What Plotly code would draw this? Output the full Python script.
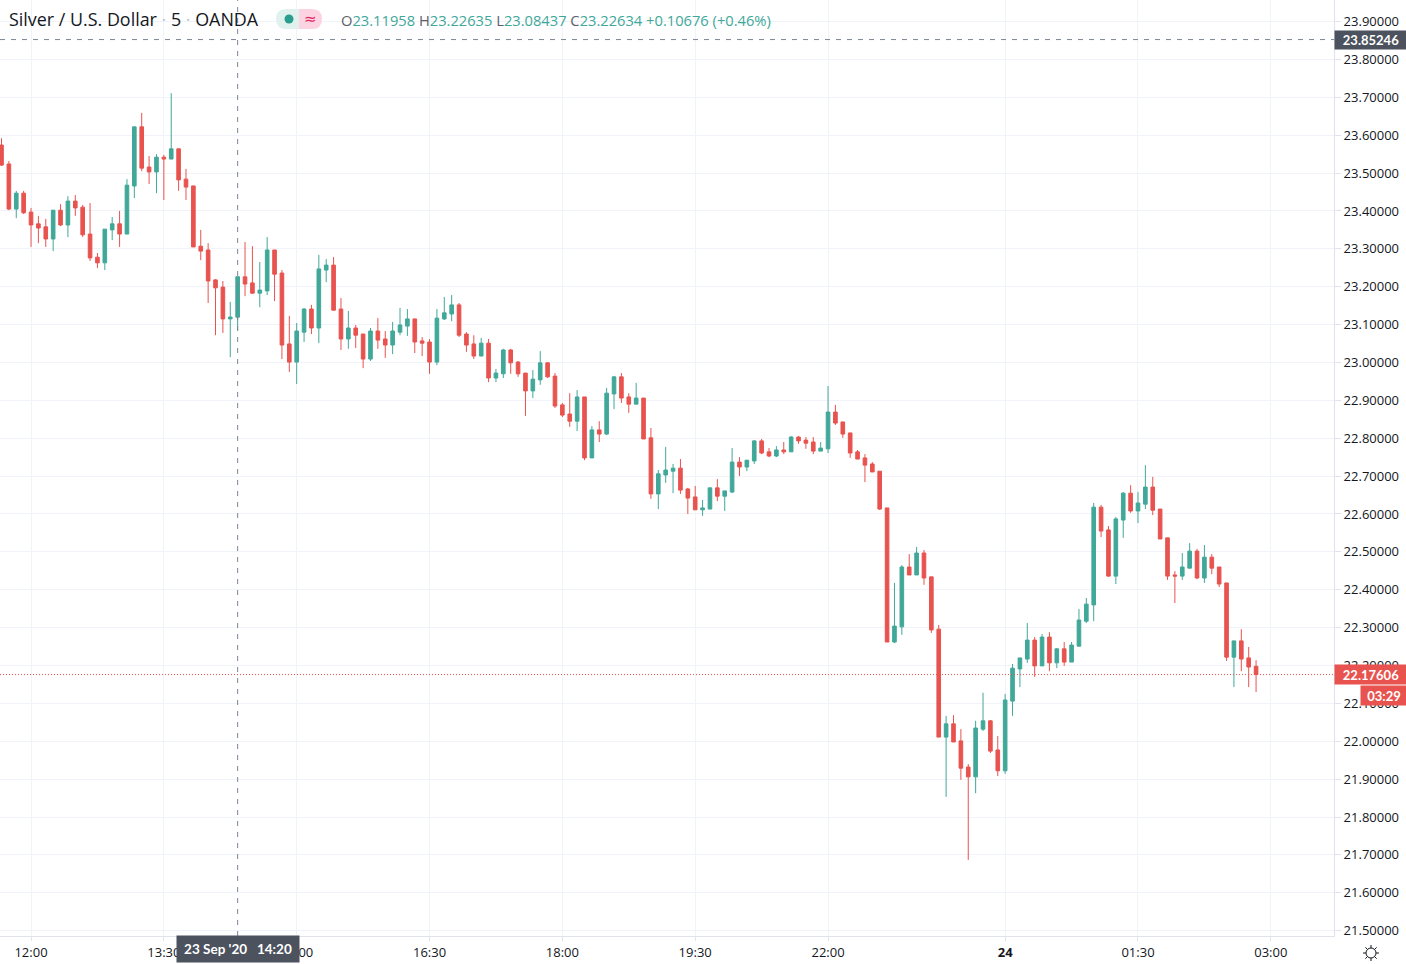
import plotly.graph_objects as go
import math

bar_index = list(range(171))
opens = [
 23.574,23.524,23.405,23.447,23.397,23.366,23.358,23.326,23.402,23.363,
 23.426,23.410,23.339,23.278,23.263,23.350,23.366,23.339,23.466,23.622,
 23.516,23.503,23.542,23.537,23.564,23.484,23.466,23.307,23.297,23.218,
 23.199,23.115,23.11958,23.226,23.210,23.183,23.189,23.297,23.236,23.049,
 23.001,23.080,23.141,23.091,23.244,23.257,23.141,23.062,23.091,23.075,
 23.009,23.083,23.062,23.046,23.080,23.096,23.115,23.057,23.054,23.001,
 23.115,23.128,23.152,23.075,23.049,23.017,23.051,22.959,22.970,23.033,
 23.001,22.972,22.925,22.954,22.999,22.964,22.888,22.864,22.845,22.909,
 22.748,22.822,22.811,22.917,22.962,22.909,22.890,22.906,22.801,22.653,
 22.703,22.713,22.721,22.666,22.645,22.611,22.613,22.669,22.647,22.658,
 22.737,22.724,22.740,22.793,22.764,22.753,22.769,22.764,22.803,22.795,
 22.790,22.766,22.772,22.869,22.843,22.814,22.764,22.748,22.732,22.713,
 22.616,22.262,22.302,22.460,22.439,22.497,22.434,22.296,22.011,22.046,
 22.001,21.932,21.906,22.032,22.054,21.977,21.922,22.106,22.191,22.217,
 22.267,22.199,22.275,22.207,22.244,22.209,22.251,22.317,22.360,22.618,
 22.558,22.436,22.584,22.655,22.608,22.626,22.671,22.613,22.537,22.439,
 22.436,22.457,22.502,22.431,22.486,22.460,22.418,22.222,22.265,22.220,
 22.198]
highs = [
 23.592,23.532,23.453,23.453,23.408,23.387,23.379,23.402,23.418,23.439,
 23.442,23.416,23.421,23.289,23.352,23.384,23.400,23.484,23.622,23.659,
 23.545,23.550,23.548,23.711,23.564,23.511,23.466,23.350,23.315,23.220,
 23.215,23.160,23.22635,23.318,23.307,23.265,23.331,23.297,23.244,23.123,
 23.104,23.144,23.152,23.284,23.273,23.278,23.170,23.136,23.099,23.075,
 23.091,23.117,23.083,23.107,23.144,23.141,23.115,23.067,23.062,23.141,
 23.173,23.178,23.157,23.080,23.072,23.065,23.062,22.983,23.036,23.036,
 23.004,22.972,22.980,23.030,23.001,22.972,22.893,22.919,22.927,22.909,
 22.832,22.845,22.933,22.964,22.972,22.919,22.946,22.906,22.827,22.716,
 22.777,22.732,22.745,22.669,22.674,22.637,22.669,22.692,22.661,22.774,
 22.750,22.742,22.795,22.798,22.774,22.779,22.790,22.806,22.806,22.803,
 22.803,22.790,22.938,22.888,22.843,22.814,22.769,22.758,22.737,22.713,
 22.616,22.418,22.465,22.494,22.513,22.505,22.434,22.307,22.067,22.069,
 22.032,21.940,22.054,22.128,22.056,22.014,22.125,22.204,22.220,22.312,
 22.275,22.283,22.288,22.246,22.262,22.262,22.349,22.378,22.629,22.624,
 22.568,22.592,22.658,22.676,22.658,22.729,22.698,22.613,22.537,22.449,
 22.497,22.523,22.508,22.518,22.494,22.460,22.418,22.265,22.296,22.249,
 22.214]
lows = [
 23.519,23.402,23.381,23.392,23.305,23.315,23.305,23.294,23.360,23.331,
 23.387,23.331,23.268,23.249,23.244,23.323,23.305,23.339,23.434,23.505,
 23.471,23.447,23.429,23.537,23.453,23.429,23.305,23.270,23.157,23.072,
 23.078,23.014,23.08437,23.175,23.181,23.146,23.178,23.162,23.009,22.975,
 22.943,23.054,23.075,23.051,23.212,23.138,23.033,23.036,23.038,22.985,
 23.004,23.036,23.012,23.022,23.072,23.070,23.025,23.017,22.970,22.993,
 23.112,23.109,23.067,23.028,23.009,23.017,22.948,22.948,22.959,22.970,
 22.962,22.859,22.906,22.941,22.959,22.880,22.856,22.830,22.819,22.742,
 22.748,22.790,22.808,22.877,22.893,22.867,22.890,22.798,22.640,22.613,
 22.682,22.655,22.653,22.600,22.611,22.595,22.613,22.634,22.608,22.655,
 22.700,22.713,22.732,22.758,22.750,22.750,22.758,22.764,22.785,22.772,
 22.758,22.766,22.761,22.835,22.801,22.748,22.745,22.684,22.711,22.611,
 22.262,22.259,22.281,22.439,22.439,22.413,22.286,22.011,21.853,21.998,
 21.898,21.687,21.863,22.027,21.969,21.908,21.914,22.067,22.143,22.207,
 22.170,22.199,22.185,22.193,22.199,22.209,22.251,22.312,22.317,22.539,
 22.434,22.415,22.537,22.603,22.576,22.613,22.597,22.534,22.426,22.365,
 22.426,22.457,22.428,22.418,22.441,22.407,22.212,22.143,22.185,22.143,
 22.130]
closes = [
 23.521,23.405,23.447,23.395,23.363,23.355,23.326,23.402,23.363,23.426,
 23.408,23.337,23.276,23.263,23.352,23.366,23.339,23.468,23.622,23.513,
 23.503,23.542,23.537,23.564,23.482,23.463,23.305,23.294,23.215,23.197,
 23.115,23.120,23.22634,23.207,23.183,23.191,23.297,23.233,23.046,23.001,
 23.083,23.141,23.091,23.247,23.257,23.138,23.062,23.091,23.072,23.009,
 23.083,23.059,23.046,23.083,23.099,23.115,23.054,23.051,23.001,23.117,
 23.131,23.152,23.072,23.046,23.017,23.051,22.959,22.972,23.033,22.999,
 22.970,22.925,22.956,22.999,22.962,22.885,22.861,22.845,22.909,22.748,
 22.822,22.811,22.919,22.962,22.906,22.890,22.906,22.798,22.653,22.706,
 22.716,22.721,22.663,22.642,22.611,22.616,22.669,22.647,22.661,22.737,
 22.724,22.742,22.793,22.761,22.753,22.769,22.764,22.803,22.793,22.787,
 22.766,22.774,22.869,22.840,22.811,22.761,22.745,22.729,22.711,22.613,
 22.262,22.304,22.460,22.439,22.497,22.431,22.294,22.011,22.046,21.998,
 21.929,21.906,22.035,22.054,21.974,21.922,22.109,22.193,22.220,22.267,
 22.199,22.275,22.207,22.244,22.209,22.254,22.320,22.362,22.618,22.555,
 22.436,22.587,22.655,22.608,22.629,22.671,22.610,22.534,22.436,22.436,
 22.460,22.502,22.431,22.486,22.457,22.415,22.222,22.265,22.217,22.196,
 22.17606]

time_ticks = [4, 22, 40, 58, 76, 94, 112, 136, 154, 172]
time_labels = ["12:00", "13:30", "15:00", "16:30", "18:00", "19:30", "22:00", "<b>24</b>", "01:30", "03:00"]
price_ticks = [21.5, 21.6, 21.7, 21.8, 21.9, 22.0, 22.1, 22.2, 22.3, 22.4, 22.5, 22.6,
               22.7, 22.8, 22.9, 23.0, 23.1, 23.2, 23.3, 23.4, 23.5, 23.6, 23.7, 23.8, 23.9]
crosshair_bar = 32
crosshair_price = 23.85246
last_price = 22.17606

TEAL = "#41a899"
RED = "#e8534f"
GRID = "#f1f3fa"
AXIS = "#e0e3eb"
INK = "#131722"
DARK = "#4c525e"
GREY = "#7b8696"
W, H = 1406, 964
PW, PH = 1334, 936
FONT = "Open Sans"


def fx(px):
    return px / PW


def fy(py):
    return 1 - py / PH


fig = go.Figure(go.Candlestick(
    x=bar_index, open=opens, high=highs, low=lows, close=closes,
    increasing=dict(line=dict(color=TEAL, width=1), fillcolor=TEAL),
    decreasing=dict(line=dict(color=RED, width=1), fillcolor=RED),
    whiskerwidth=0, hoverinfo="skip", showlegend=False,
))

shapes = [
    dict(type="line", xref="paper", yref="y", x0=0, x1=1, y0=crosshair_price, y1=crosshair_price,
         line=dict(color=GREY, width=1, dash="5px,6px")),
    dict(type="line", xref="x", yref="paper", x0=crosshair_bar, x1=crosshair_bar, y0=0, y1=1,
         line=dict(color=GREY, width=1, dash="5px,6px")),
    dict(type="line", xref="paper", yref="y", x0=0, x1=1, y0=last_price, y1=last_price,
         line=dict(color=RED, width=1, dash="1px,2px")),
    dict(type="path", xref="paper", yref="paper", fillcolor="#e1f2ee", line_width=0,
         path=f"M {fx(299)} {fy(9)} L {fx(286)} {fy(9)} Q {fx(276)} {fy(9)} {fx(276)} {fy(19)} "
              f"Q {fx(276)} {fy(29)} {fx(286)} {fy(29)} L {fx(299)} {fy(29)} Z"),
    dict(type="path", xref="paper", yref="paper", fillcolor="#fbd3e1", line_width=0,
         path=f"M {fx(299)} {fy(9)} L {fx(312)} {fy(9)} Q {fx(322)} {fy(9)} {fx(322)} {fy(19)} "
              f"Q {fx(322)} {fy(29)} {fx(312)} {fy(29)} L {fx(299)} {fy(29)} Z"),
    dict(type="circle", xref="paper", yref="paper", x0=fx(284.5), x1=fx(293.5), y0=fy(23.5), y1=fy(14.5),
         fillcolor="#2a9d8f", line_width=0),
    dict(type="circle", xref="paper", yref="paper", x0=fx(1366), x1=fx(1376), y0=fy(958), y1=fy(948),
         fillcolor="white", line=dict(color=INK, width=1)),
]
for k in range(8):
    a = k * math.pi / 4
    shapes.append(dict(type="line", xref="paper", yref="paper",
                       x0=fx(1371 + 5 * math.cos(a)), y0=fy(953 + 5 * math.sin(a)),
                       x1=fx(1371 + 8 * math.cos(a)), y1=fy(953 + 8 * math.sin(a)),
                       line=dict(color=INK, width=1)))

annotations = [
    dict(xref="paper", yref="paper", x=fx(7), y=fy(19), xanchor="left", yanchor="middle", showarrow=False,
         text='Silver / U.S. Dollar <span style="color:#c4c8d0">·</span> 5 <span style="color:#c4c8d0">·</span> OANDA',
         font=dict(family=FONT, size=17.9, color=INK)),
    dict(xref="paper", yref="paper", x=fx(310), y=fy(19), xanchor="center", yanchor="middle", showarrow=False,
         text="≈", font=dict(family="DejaVu Sans", size=15, color="#e0245e")),
    dict(xref="paper", yref="paper", x=fx(339), y=fy(20), xanchor="left", yanchor="middle", showarrow=False,
         text=('<span style="color:#5d606b">O</span>23.11958 '
               '<span style="color:#5d606b">H</span>23.22635 '
               '<span style="color:#5d606b">L</span>23.08437 '
               '<span style="color:#5d606b">C</span>23.22634 +0.10676 (+0.46%)'),
         font=dict(family=FONT, size=14.7, color=TEAL)),
    dict(xref="paper", yref="y", x=fx(1334), y=crosshair_price, xanchor="left", yanchor="middle", showarrow=False,
         text="<b>23.85246</b>", width=72, height=18, bgcolor=DARK, borderpad=0,
         font=dict(family="Lato", size=13, color="white")),
    dict(xref="paper", yref="y", x=fx(1334), y=last_price, xanchor="left", yanchor="middle", showarrow=False,
         text="<b>22.17606</b>", width=72, height=19, bgcolor=RED, borderpad=0,
         font=dict(family="Lato", size=13, color="white")),
    dict(xref="paper", yref="paper", x=fx(1360), y=fy(695), xanchor="left", yanchor="middle", showarrow=False,
         text="<b>03:29</b>", width=46, height=19, bgcolor=RED, borderpad=0,
         font=dict(family="Lato", size=13, color="white")),
    dict(xref="x", yref="paper", x=crosshair_bar, y=fy(949), xanchor="center", yanchor="middle", showarrow=False,
         text="<b>23 Sep '20   14:20</b>", width=122, height=26, bgcolor=DARK, borderpad=0,
         font=dict(family="Lato", size=13.5, color="white")),
]

fig.update_layout(
    width=W, height=H, autosize=False,
    margin=dict(l=0, r=W - PW, t=0, b=H - PH, pad=0),
    paper_bgcolor="white", plot_bgcolor="white",
    font=dict(family=FONT, size=13, color=INK),
    shapes=shapes, annotations=annotations, showlegend=False,
    dragmode=False,
)
fig.update_xaxes(
    range=[-0.203, 180.56], rangeslider_visible=False,
    tickmode="array", tickvals=time_ticks, ticktext=time_labels,
    showgrid=True, gridcolor=GRID, gridwidth=1, zeroline=False,
    ticks="outside", ticklen=4, tickcolor=AXIS, tickwidth=1,
    showline=True, linecolor=AXIS, linewidth=1,
    tickfont=dict(family=FONT, size=13, color=INK),
)
fig.update_yaxes(
    range=[21.4859, 23.9569], side="right",
    tickmode="array", tickvals=price_ticks, ticktext=[f"{v:.5f}" for v in price_ticks],
    showgrid=True, gridcolor=GRID, gridwidth=1, zeroline=False,
    ticks="outside", ticklen=6, tickcolor=AXIS, tickwidth=1,
    showline=True, linecolor=AXIS, linewidth=1, mirror=False,
    tickfont=dict(family=FONT, size=13, color=INK),
)

fig.write_html("out.html", config=dict(displayModeBar=False),
               post_script="document.body.style.margin='0';")
